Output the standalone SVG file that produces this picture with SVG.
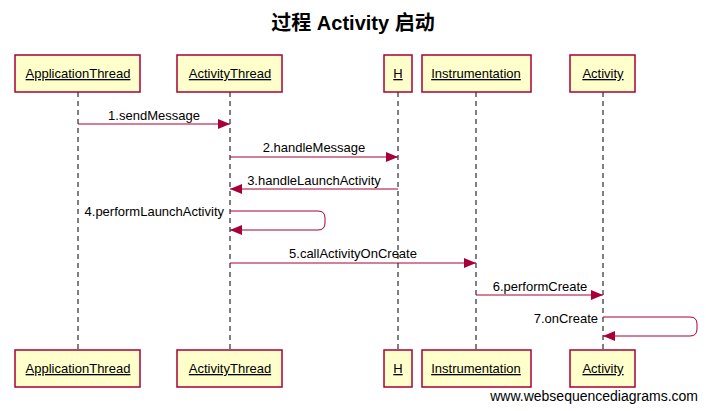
<svg xmlns="http://www.w3.org/2000/svg" width="706" height="411" viewBox="0 0 706 411">
<style>
.box{fill:#ffffcc;stroke:#a80036;stroke-width:1.5}
.name{font-family:"Liberation Sans",Arial,sans-serif;font-size:13px;fill:#000;text-anchor:middle;text-decoration:underline}
.life{stroke:#000;stroke-width:1;stroke-dasharray:5,4;fill:none}
.msg{stroke:#a80036;stroke-width:1;fill:none}
.lbl{font-family:"Liberation Sans",Arial,sans-serif;font-size:13px;fill:#000}
</style>
<defs>
<marker id="ah" markerWidth="12" markerHeight="10" refX="12" refY="5" orient="auto" markerUnits="userSpaceOnUse">
<path d="M0,0 L12,5 L0,10 Z" fill="#a80036"/>
</marker>
</defs>
<rect width="706" height="411" fill="#fff"/>
<text x="353" y="30" font-family="'Liberation Sans','Noto Sans CJK SC',sans-serif" font-size="20" font-weight="bold" text-anchor="middle">过程 Activity 启动</text>
<g id="lifelines">
<line class="life" x1="78" y1="92" x2="78" y2="350"/>
<line class="life" x1="230" y1="92" x2="230" y2="350"/>
<line class="life" x1="398" y1="92" x2="398" y2="350"/>
<line class="life" x1="476" y1="92" x2="476" y2="350"/>
<line class="life" x1="603" y1="92" x2="603" y2="350"/>
</g>
<g id="ApplicationThread">
<rect class="box" x="15" y="55" width="125" height="37"/>
<text class="name" x="78" y="78">ApplicationThread</text>
<rect class="box" x="15" y="350" width="125" height="37"/>
<text class="name" x="78" y="373">ApplicationThread</text>
</g>
<g id="ActivityThread">
<rect class="box" x="177" y="55" width="105" height="37"/>
<text class="name" x="230" y="78">ActivityThread</text>
<rect class="box" x="177" y="350" width="105" height="37"/>
<text class="name" x="230" y="373">ActivityThread</text>
</g>
<g id="H">
<rect class="box" x="384" y="55" width="28" height="37"/>
<text class="name" x="398" y="78">H</text>
<rect class="box" x="384" y="350" width="28" height="37"/>
<text class="name" x="398" y="373">H</text>
</g>
<g id="Instrumentation">
<rect class="box" x="422" y="55" width="109" height="37"/>
<text class="name" x="476" y="78">Instrumentation</text>
<rect class="box" x="422" y="350" width="109" height="37"/>
<text class="name" x="476" y="373">Instrumentation</text>
</g>
<g id="Activity">
<rect class="box" x="570" y="55" width="65" height="37"/>
<text class="name" x="603" y="78">Activity</text>
<rect class="box" x="570" y="350" width="65" height="37"/>
<text class="name" x="603" y="373">Activity</text>
</g>
<g id="connectors">
<line class="msg" x1="78" y1="124" x2="230" y2="124" marker-end="url(#ah)"/>
<text class="lbl" x="154" y="120" text-anchor="middle">1.sendMessage</text>
<line class="msg" x1="230" y1="157" x2="398" y2="157" marker-end="url(#ah)"/>
<text class="lbl" x="314" y="152" text-anchor="middle">2.handleMessage</text>
<line class="msg" x1="398" y1="189" x2="230" y2="189" marker-end="url(#ah)"/>
<text class="lbl" x="314" y="185" text-anchor="middle">3.handleLaunchActivity</text>
<path class="msg" d="M230,211 H318 Q325,211 325,218 V223 Q325,230 318,230 H230" marker-end="url(#ah)"/>
<text class="lbl" x="224" y="216" text-anchor="end">4.performLaunchActivity</text>
<line class="msg" x1="230" y1="263" x2="476" y2="263" marker-end="url(#ah)"/>
<text class="lbl" x="353" y="258" text-anchor="middle">5.callActivityOnCreate</text>
<line class="msg" x1="476" y1="295" x2="603" y2="295" marker-end="url(#ah)"/>
<text class="lbl" x="540" y="291" text-anchor="middle">6.performCreate</text>
<path class="msg" d="M603,317 H690 Q697,317 697,324 V329 Q697,336 690,336 H603" marker-end="url(#ah)"/>
<text class="lbl" x="598" y="323" text-anchor="end">7.onCreate</text>
</g>
<text x="698" y="401" font-family="'Liberation Sans',Arial,sans-serif" font-size="14" text-anchor="end">www.websequencediagrams.com</text>
</svg>
